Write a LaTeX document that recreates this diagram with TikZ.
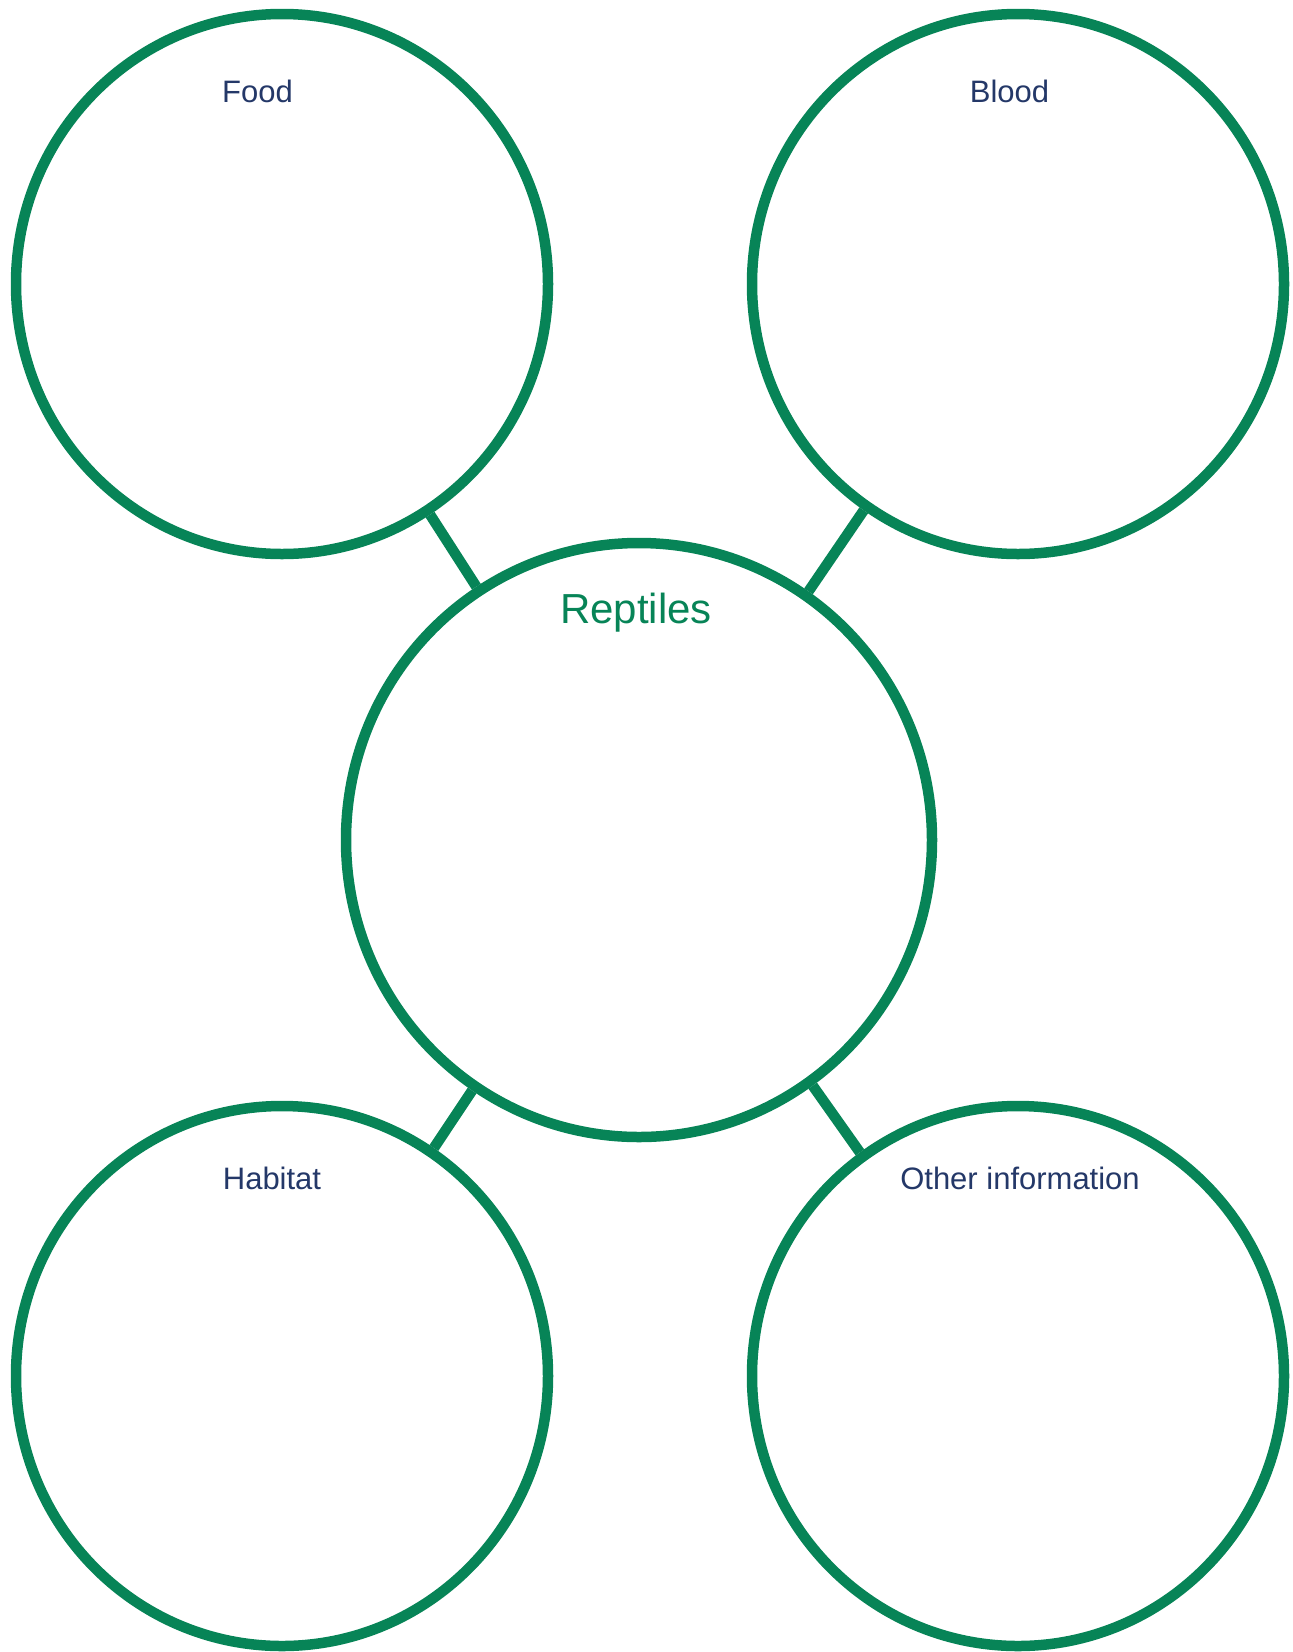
\documentclass[tikz,border=0pt]{standalone}
\usepackage{fontspec}
\setmainfont{Liberation Sans}
\usetikzlibrary{shapes.geometric}
\definecolor{reptgreen}{RGB}{7,132,87}
\definecolor{labelnavy}{RGB}{36,56,104}
\begin{document}
\begin{tikzpicture}[x=1pt,y=-1pt,
  bubble/.style={ellipse,draw=reptgreen,line width=10.5pt,inner sep=0pt,
    minimum width=532pt,minimum height=540pt},
  hub/.style={bubble,minimum width=586pt,minimum height=594pt},
  topic/.style={anchor=base,text=labelnavy,font=\fontsize{31}{37}\selectfont},
  title/.style={anchor=base,text=reptgreen,font=\fontsize{42}{50}\selectfont}]
  \useasboundingbox (0,0) rectangle (1293,1652);
  \node[hub] (reptiles) at (639,840) {};
  \node[bubble] (food) at (282,284) {};
  \node[bubble] (blood) at (1018,284) {};
  \node[bubble] (habitat) at (282,1376) {};
  \node[bubble] (other) at (1018,1376) {};
  \foreach \spoke in {food,blood,habitat,other}{
    \draw[reptgreen,line width=10.5pt] (reptiles) -- (\spoke);
  }
  \node[title] (reptileslbl) at (636,623) {Reptiles};
  \node[topic] (foodlbl) at (257.5,102.5) {Food};
  \node[topic] (bloodlbl) at (1009.5,102.5) {Blood};
  \node[topic] (habitatlbl) at (272,1189) {Habitat};
  \node[topic] (otherlbl) at (1020,1189) {Other information};
\end{tikzpicture}
\end{document}
